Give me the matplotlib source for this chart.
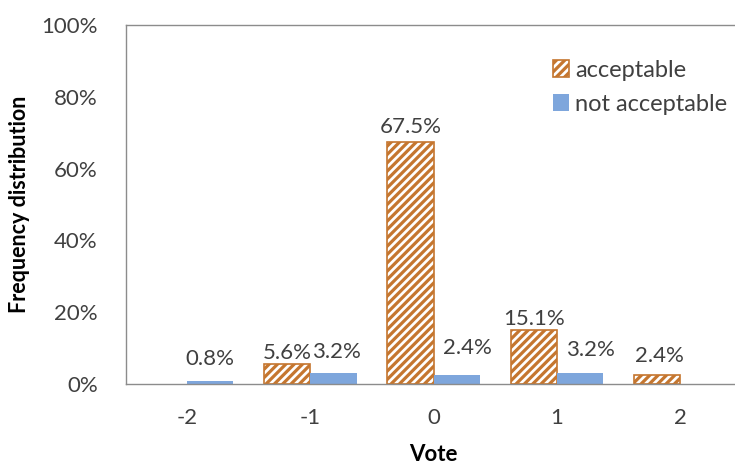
import matplotlib
matplotlib.use("Agg")
import matplotlib.pyplot as plt
import numpy as np

plt.rcParams['font.family'] = ['Lato', 'DejaVu Sans']
plt.rcParams['hatch.linewidth'] = 2.3

votes = ["-2", "-1", "0", "1", "2"]
acceptable = [0.0, 5.6, 67.5, 15.1, 2.4]
not_acceptable = [0.8, 3.2, 2.4, 3.2, 0.0]
y_ticks = [0, 20, 40, 60, 80, 100]

# label placement in pixels: horizontal nudge and gap above the bar top
acc_dx = [0, 0, 0, 0, 3]
acc_gap = [0, 5, 9, 5, 13]
nac_dx = [0, 3, 11, 11, 0]
nac_gap = [16, 15, 21, 17, 0]

orange = "#C5762F"
blue = "#7EA6DC"
text_col = "#404040"
spine_col = "#8C8C8C"

fig = plt.figure(figsize=(7.35, 4.69), dpi=100)
left, right, top, bottom = 125.5, 741.6, 25, 384
ax = fig.add_axes([left / 735, 1 - bottom / 469, (right - left) / 735, (bottom - top) / 469])

x = np.arange(len(votes))
w = 0.375

# zero values are left undrawn
acc_plot = [v if v > 0 else np.nan for v in acceptable]
nac_plot = [v if v > 0 else np.nan for v in not_acceptable]

bars_a = ax.bar(x - w / 2, acc_plot, w, facecolor="white", edgecolor=orange,
                hatch="////", linewidth=1.2, label="acceptable", zorder=2)
bars_n = ax.bar(x + w / 2, nac_plot, w, color=blue, linewidth=0,
                label="not acceptable", zorder=2)

for bars, vals, dxs, gaps in ((bars_a, acceptable, acc_dx, acc_gap),
                              (bars_n, not_acceptable, nac_dx, nac_gap)):
    for b, v, dx, g in zip(bars, vals, dxs, gaps):
        if v > 0:
            ax.annotate(f"{v:.1f}%", (b.get_x() + b.get_width() / 2, v),
                        xytext=(dx, g), textcoords="offset pixels",
                        ha="center", va="baseline", fontsize=16, color=text_col)

ax.set_xlim(-0.5, 4.5)
ax.set_ylim(0, 100)
ax.set_xticks(x)
ax.set_xticklabels(votes)
ax.set_yticks(y_ticks)
ax.set_yticklabels([f"{t}%" for t in y_ticks])
ax.tick_params(length=0, labelsize=16, colors=text_col)
ax.tick_params(axis="y", pad=20)
ax.tick_params(axis="x", pad=17)

for s in ax.spines.values():
    s.set_color(spine_col)
    s.set_linewidth(1.0)
ax.spines["right"].set_visible(False)

ax.set_xlabel("Vote", fontsize=16, fontweight="bold", color="black", labelpad=12)
ax.set_ylabel("Frequency distribution", fontsize=15.5, fontweight="bold",
              color="black", labelpad=8)

leg = ax.legend(loc="upper left", bbox_to_anchor=(0.678, 0.93), frameon=False,
                fontsize=17, handlelength=0.7, handleheight=0.7,
                handletextpad=0.25, labelspacing=0.55, borderaxespad=0)
for t in leg.get_texts():
    t.set_color(text_col)

fig.savefig("out.png", dpi=100)
